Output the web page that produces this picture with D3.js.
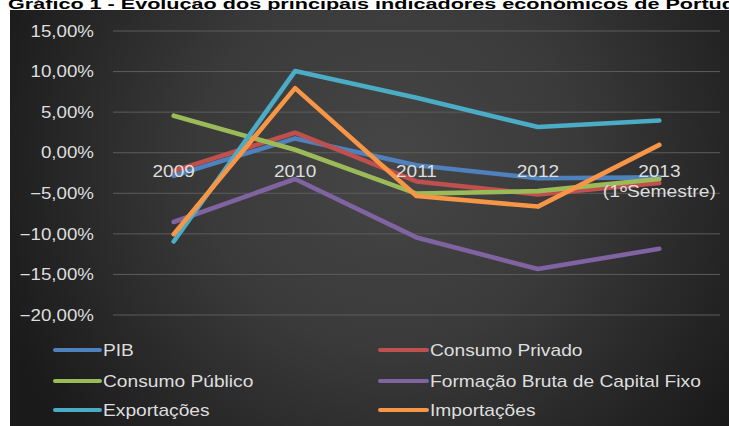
<!DOCTYPE html>
<html>
<head>
<meta charset="utf-8">
<script src="https://cdn.jsdelivr.net/npm/d3@7/dist/d3.min.js"></script>
<style>
  html, body { margin: 0; padding: 0; background: #ffffff; }
  svg { display: block; font-family: "Liberation Sans", Arial, sans-serif; }
</style>
</head>
<body>
<svg id="chart" width="729" height="426"></svg>
<script>
// Categories and series (annual % change)
const years = ["2009", "2010", "2011", "2012", "2013"];
const yearLabels = [["2009"], ["2010"], ["2011"], ["2012"], ["2013", "(1ºSemestre)"]];
const seriesNames = ["PIB", "Consumo Privado", "Consumo Público",
  "Formação Bruta de Capital Fixo", "Exportações", "Importações"];
const pib = [-2.9, 1.7, -1.6, -3.2, -3.1];
const consumoPrivado = [-2.3, 2.4, -3.6, -5.2, -3.8];
const consumoPublico = [4.5, 0.3, -5.1, -4.8, -3.3];
const fbcf = [-8.6, -3.3, -10.5, -14.4, -11.9];
const exportacoes = [-11.0, 10.0, 6.7, 3.1, 3.9];
const importacoes = [-10.1, 7.9, -5.4, -6.7, 0.9];
const yTicks = [-20, -15, -10, -5, 0, 5, 10, 15];
const colors = ["#4f81bd", "#c0504d", "#9bbb59", "#8064a2", "#4bacc6", "#f79646"];
const title = "Gráfico 1 - Evolução dos principais indicadores económicos de Portugal";

const seriesValues = [pib, consumoPrivado, consumoPublico, fbcf, exportacoes, importacoes];
const series = seriesNames.map((name, i) => ({ name, color: colors[i], values: seriesValues[i] }));

const svg = d3.select("#chart");
const stretch = 1.19;
const textColor = "#dedede";

// Title (runs past the right edge, partly covered by the chart area)
svg.append("text")
  .attr("x", 8).attr("y", 9)
  .attr("font-size", 15).attr("font-weight", "bold")
  .attr("fill", "#000")
  .attr("textLength", 745).attr("lengthAdjust", "spacingAndGlyphs")
  .text(title);

// Chart area background
const defs = svg.append("defs");
const grad = defs.append("radialGradient")
  .attr("id", "bg").attr("gradientUnits", "userSpaceOnUse")
  .attr("cx", 390).attr("cy", 160).attr("r", 420);
grad.append("stop").attr("offset", "0").attr("stop-color", "#464646");
grad.append("stop").attr("offset", "0.45").attr("stop-color", "#3a3a3a");
grad.append("stop").attr("offset", "1").attr("stop-color", "#1a1a1a");
svg.append("rect").attr("x", 10).attr("y", 10).attr("width", 719).attr("height", 416)
  .attr("fill", "url(#bg)");

// Scales
const x = d3.scaleBand().domain(years).range([113, 720]);
const y = d3.scaleLinear().domain([-20, 15]).range([314.5, 30.5]);
const cx = d => x(d) + x.bandwidth() / 2;

const locale = d3.formatLocale({ decimal: ",", thousands: ".", grouping: [3], currency: ["", "€"] });
const fmt = locale.format(".2f");

// Y axis with gridlines
const yAxis = d3.axisLeft(y)
  .tickValues(yTicks)
  .tickSize(-(720 - 113))
  .tickPadding(19)
  .tickFormat(d => fmt(d) + "%");
const gy = svg.append("g").attr("transform", "translate(113,0)").call(yAxis);
gy.select(".domain").remove();
gy.selectAll(".tick line").attr("stroke", "#5c5c5c").attr("stroke-width", 1);
gy.selectAll(".tick text")
  .attr("fill", textColor).attr("font-size", 16)
  .attr("font-family", "'Liberation Sans', Arial, sans-serif")
  .attr("x", 0).attr("dy", "0.36em")
  .attr("transform", `translate(-19,0) scale(1.17,1)`);

// Series lines
const line = d3.line().x((d, i) => cx(years[i])).y(d => y(d));
svg.append("g").selectAll("path").data(series).join("path")
  .attr("d", d => line(d.values))
  .attr("fill", "none")
  .attr("stroke", d => d.color)
  .attr("stroke-width", 4.6)
  .attr("stroke-linecap", "round")
  .attr("stroke-linejoin", "round");

// Category labels at the zero line
const cat = svg.append("g").selectAll("g").data(years).join("g")
  .attr("transform", d => `translate(${cx(d)},${y(0) + 25})`);
cat.each(function (d, i) {
  const lines = yearLabels[i];
  const g = d3.select(this);
  lines.forEach((t, j) => {
    const txt = g.append("text")
      .attr("text-anchor", "middle")
      .attr("y", j * 20)
      .attr("fill", textColor).attr("font-size", 16)
      .text(t);
    if (j === 0) txt.attr("transform", `scale(${stretch},1)`);
    else txt.attr("textLength", 113).attr("lengthAdjust", "spacingAndGlyphs");
  });
});

// Legend, two columns
const legendCols = [{ x1: 55, x2: 100, tx: 103 }, { x1: 380, x2: 427, tx: 430 }];
const legendRows = [350, 381, 410];
const leg = svg.append("g").selectAll("g").data(series).join("g")
  .attr("transform", (d, i) => `translate(0,${legendRows[Math.floor(i / 2)]})`);
leg.append("line")
  .attr("x1", (d, i) => legendCols[i % 2].x1)
  .attr("x2", (d, i) => legendCols[i % 2].x2)
  .attr("stroke", d => d.color).attr("stroke-width", 4)
  .attr("stroke-linecap", "round");
leg.append("text")
  .attr("transform", (d, i) => `translate(${legendCols[i % 2].tx},0) scale(1.2,1)`)
  .attr("dy", "0.36em")
  .attr("fill", textColor).attr("font-size", 16)
  .text(d => d.name);
</script>
</body>
</html>
